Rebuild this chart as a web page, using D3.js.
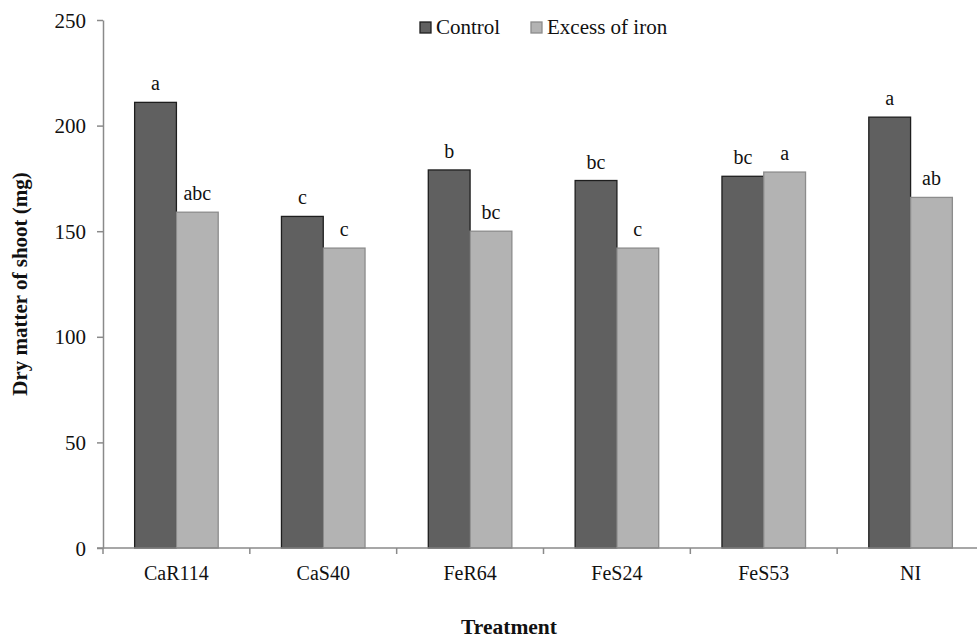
<!DOCTYPE html>
<html>
<head>
<meta charset="utf-8">
<script src="https://cdn.jsdelivr.net/npm/d3@7/dist/d3.min.js"></script>
<style>
  html, body { margin: 0; padding: 0; background: #fff; }
  svg { display: block; }
  text { font-family: "Liberation Serif", "Times New Roman", serif; fill: #111; }
</style>
</head>
<body>
<svg id="chart" width="977" height="640"></svg>
<script>
// Dry matter of shoot per treatment, control vs excess iron
const treatments = ["CaR114", "CaS40", "FeR64", "FeS24", "FeS53", "NI"];
const seriesNames = ["Control", "Excess of iron"];
const controlValues = [211, 157, 179, 174, 176, 204];
const ironValues = [159, 142, 150, 142, 178, 166];
const controlLetters = ["a", "c", "b", "bc", "bc", "a"];
const ironLetters = ["abc", "c", "bc", "c", "a", "ab"];
const yTicks = [0, 50, 100, 150, 200, 250];

const fills = ["#606060", "#b3b3b3"];
const strokes = ["#1e1e1e", "#8c8c8c"];

const svg = d3.select("#chart");
const plotLeft = 103, plotTop = 20, plotBottom = 548, plotRight = 984;

const x = d3.scaleBand().domain(treatments).range([plotLeft, plotRight]).padding(0);
const xs = d3.scaleBand().domain(seriesNames).range([0, x.bandwidth()])
  .paddingInner(0).paddingOuter(0.757);
const y = d3.scaleLinear().domain([0, 250]).range([plotBottom, plotTop]);

const rows = treatments.map((t, i) => ({
  t,
  vals: [
    { s: seriesNames[0], v: controlValues[i], l: controlLetters[i], k: 0 },
    { s: seriesNames[1], v: ironValues[i], l: ironLetters[i], k: 1 }
  ]
}));

// Bars
const g = svg.append("g");
const grp = g.selectAll("g.cat").data(rows).join("g")
  .attr("class", "cat")
  .attr("transform", d => `translate(${x(d.t)},0)`);

grp.selectAll("rect").data(d => d.vals).join("rect")
  .attr("x", d => xs(d.s))
  .attr("y", d => y(d.v))
  .attr("width", xs.bandwidth())
  .attr("height", d => y(0) - y(d.v))
  .attr("fill", d => fills[d.k])
  .attr("stroke", d => strokes[d.k])
  .attr("stroke-width", 1.3);

// Significance letters
grp.selectAll("text.letter").data(d => d.vals).join("text")
  .attr("class", "letter")
  .attr("x", d => xs(d.s) + xs.bandwidth() / 2)
  .attr("y", d => y(d.v) - 12)
  .attr("text-anchor", "middle")
  .attr("font-size", 20)
  .text(d => d.l);

// Y axis
const yAxis = svg.append("g")
  .attr("transform", `translate(${plotLeft},0)`)
  .call(d3.axisLeft(y).tickValues(yTicks).tickSize(6).tickSizeOuter(0).tickPadding(11));
yAxis.select(".domain").attr("stroke", "#8a8a8a").attr("stroke-width", 1.5);
yAxis.selectAll(".tick line").attr("stroke", "#8a8a8a").attr("stroke-width", 1.5);
yAxis.selectAll(".tick text")
  .attr("font-family", "Liberation Serif, serif")
  .attr("font-size", 21).attr("fill", "#111").attr("dy", "0.34em");

// X axis: ticks on category boundaries
const xAxisG = svg.append("g").attr("transform", `translate(0,${plotBottom})`);
xAxisG.append("line")
  .attr("x1", plotLeft - 6).attr("x2", plotRight)
  .attr("y1", 0).attr("y2", 0)
  .attr("stroke", "#8a8a8a").attr("stroke-width", 1.5);
xAxisG.selectAll("line.b").data(treatments).join("line")
  .attr("class", "b")
  .attr("x1", d => x(d)).attr("x2", d => x(d))
  .attr("y1", 0).attr("y2", 6)
  .attr("stroke", "#8a8a8a").attr("stroke-width", 1.5);
xAxisG.selectAll("text").data(treatments).join("text")
  .attr("x", d => x(d) + x.bandwidth() / 2)
  .attr("y", 32)
  .attr("text-anchor", "middle")
  .attr("font-size", 20)
  .text(d => d);

// Axis titles
svg.append("text")
  .attr("x", 509).attr("y", 634)
  .attr("text-anchor", "middle")
  .attr("font-size", 21.5).attr("font-weight", "bold")
  .text("Treatment");
svg.append("text")
  .attr("transform", `translate(27,${(plotTop + plotBottom) / 2}) rotate(-90)`)
  .attr("text-anchor", "middle")
  .attr("font-size", 21).attr("font-weight", "bold")
  .text("Dry matter of shoot (mg)");

// Legend
const legendX = [420, 531];
const leg = svg.append("g").selectAll("g").data(seriesNames).join("g")
  .attr("transform", (d, i) => `translate(${legendX[i]},22)`);
leg.append("rect")
  .attr("width", 11).attr("height", 11)
  .attr("fill", (d, i) => fills[i])
  .attr("stroke", (d, i) => strokes[i])
  .attr("stroke-width", 1.3);
leg.append("text")
  .attr("x", 16).attr("y", 12)
  .attr("font-size", 21)
  .text(d => d);
</script>
</body>
</html>
